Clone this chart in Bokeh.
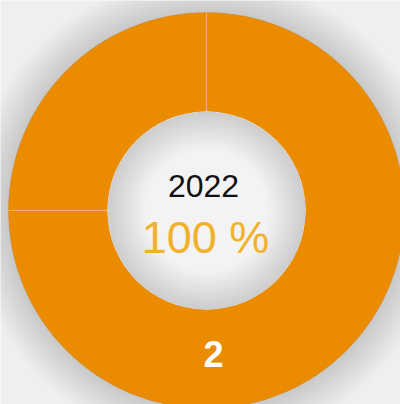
import numpy as np
from bokeh.plotting import figure
from bokeh.models import Range1d, ColumnDataSource
from bokeh.core.properties import value
from bokeh.embed import file_html
from bokeh.resources import INLINE

# data
categories = ["A", "B"]
values = [1, 3]
center_title = "2022"
center_pct = "100 %"
slice_label = "2"

W, H = 400, 404
cx, cy = 206, 404 - 210
r_in, r_out = 99, 198

p = figure(width=W, height=H, output_backend="svg", toolbar_location=None,
           x_range=Range1d(0, W), y_range=Range1d(0, H),
           min_border=0, background_fill_color="#efefef", border_fill_color="#efefef")
p.axis.visible = False
p.grid.visible = False
p.outline_line_color = None

# outer soft shadow
for r in np.arange(236, 199, -2):
    p.circle(x=[cx], y=[cy], radius=float(r), fill_color="black", fill_alpha=0.006, line_color=None)

# donut slices
vals = np.array(values, dtype=float)
frac = vals / vals.sum()
start = np.pi / 2 + np.concatenate([[0], np.cumsum(frac)[:-1]]) * 2 * np.pi
end = np.pi / 2 + np.cumsum(frac) * 2 * np.pi
src = ColumnDataSource(dict(cat=categories, start=start, end=end))
p.annular_wedge(x=cx, y=cy, inner_radius=r_in, outer_radius=r_out,
                start_angle="start", end_angle="end", source=src,
                fill_color="#eb8c00", line_color=None)
# separators
x0 = cx + r_in * np.cos(start); y0 = cy + r_in * np.sin(start)
x1 = cx + r_out * np.cos(start); y1 = cy + r_out * np.sin(start)
p.segment(x0=x0, y0=y0, x1=x1, y1=y1, line_color="#f2b370", line_width=1)
# outer rim
p.circle(x=[cx], y=[cy], radius=r_out, fill_color=None, line_color="#c98a3a", line_alpha=0.5, line_width=1)

# hole with inner shadow
p.circle(x=[cx], y=[cy], radius=r_in, fill_color="#f3f3f3", line_color=None)
for ri in np.arange(97, 60, -2):
    p.annular_wedge(x=cx, y=cy, inner_radius=float(ri), outer_radius=r_in, start_angle=0, end_angle=2 * np.pi,
                    fill_color="black", fill_alpha=0.008, line_color=None)

# texts
p.text(x=[203], y=[404 - 185], text=[center_title], text_align="center", text_baseline="alphabetic",
       text_font=value("Liberation Sans"), text_font_size="32px", text_color="#111111")
p.text(x=[205], y=[404 - 237], text=[center_pct], text_align="center", text_baseline="alphabetic",
       text_font=value("Liberation Sans"), text_font_size="45px", text_color="#f2b12a")
p.text(x=[213], y=[404 - 353], text=[slice_label], text_align="center", text_baseline="alphabetic",
       text_font=value("Liberation Sans"), text_font_size="36px", text_font_style="bold", text_color="#ffffff")

open("out.html", "w").write(file_html(p, INLINE))
